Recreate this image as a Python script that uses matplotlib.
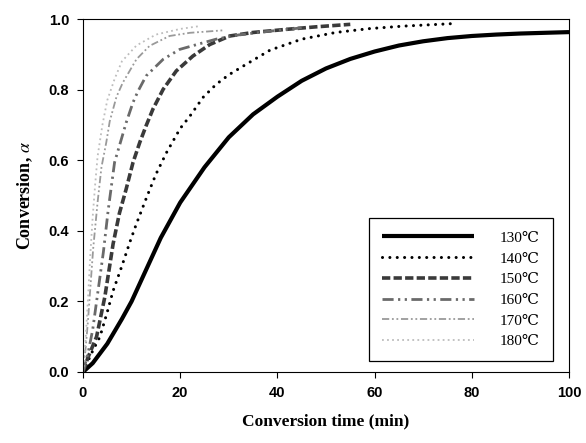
import matplotlib
matplotlib.use('Agg')
import matplotlib.pyplot as plt

# ── Data ───────────────────────────────────────────────────────────────────────
t_130 = [0, 2, 5, 8, 10, 13, 16, 20, 25, 30, 35, 40, 45, 50, 55, 60, 65, 70, 75, 80, 85, 90, 95, 100]
a_130 = [0, 0.025, 0.08, 0.15, 0.20, 0.29, 0.38, 0.48, 0.58, 0.665, 0.73, 0.78, 0.825, 0.86, 0.887,
         0.908, 0.925, 0.937, 0.946, 0.952, 0.956, 0.959, 0.961, 0.963]

t_140 = [0, 1, 2, 3.5, 5, 6.2, 8, 9.7, 11, 13.1, 15, 17.2, 20, 22, 24.7, 27.4, 30, 33, 38.5, 45, 52, 59, 66, 76]
a_140 = [0, 0.03, 0.06, 0.10, 0.17, 0.23, 0.30, 0.37, 0.42, 0.495, 0.56, 0.622, 0.69, 0.725, 0.778,
         0.815, 0.842, 0.867, 0.912, 0.943, 0.962, 0.973, 0.98, 0.987]

t_150 = [0, 1, 2.8, 4.5, 6.2, 7.5, 8.9, 10.3, 11.7, 13, 14.4, 16.5, 19.2, 22.6, 26.1, 30.2, 35, 42, 48, 55]
a_150 = [0, 0.04, 0.10, 0.213, 0.363, 0.45, 0.519, 0.594, 0.651, 0.698, 0.745, 0.801, 0.853, 0.895,
         0.928, 0.952, 0.962, 0.971, 0.978, 0.985]

t_160 = [0, 1, 2, 3, 4.2, 5.2, 6.5, 7.5, 8.9, 10.3, 11.3, 13, 16.5, 19.9, 24, 27.4, 32, 38, 45]
a_160 = [0, 0.05, 0.12, 0.22, 0.34, 0.46, 0.594, 0.641, 0.707, 0.764, 0.795, 0.839, 0.886, 0.914,
         0.93, 0.943, 0.955, 0.965, 0.975]

t_170 = [0, 0.5, 1, 2.1, 3, 3.8, 4.8, 5.5, 6.9, 8.2, 11, 13.7, 17.8, 22, 28.8]
a_170 = [0, 0.06, 0.14, 0.35, 0.48, 0.58, 0.651, 0.71, 0.78, 0.82, 0.886, 0.924, 0.952, 0.961, 0.968]

t_180 = [0, 0.5, 1, 1.5, 2, 2.5, 3, 4, 5, 6.5, 8, 11, 15, 20, 24]
a_180 = [0, 0.08, 0.2, 0.33, 0.44, 0.53, 0.61, 0.70, 0.77, 0.83, 0.88, 0.925, 0.956, 0.972, 0.98]

labels = ['130℃', '140℃', '150℃', '160℃', '170℃', '180℃']

# ── Plot ───────────────────────────────────────────────────────────────────────
plt.rcParams['mathtext.fontset'] = 'stix'

fig = plt.figure(figsize=(5.86, 4.43), dpi=100)
ax = fig.add_axes([0.1416, 0.1603, 0.8294, 0.7967])

ax.plot(t_130, a_130, color='black', lw=3.0, solid_capstyle='butt', label=labels[0])
ax.plot(t_140, a_140, color='black', lw=2.2, ls=(0, (0.01, 2.4)),
        dash_capstyle='round', label=labels[1])
ax.plot(t_150, a_150, color='#3a3a3a', lw=2.6, ls=(0, (2.3, 0.9)), label=labels[2])
ax.plot(t_160, a_160, color='#6a6a6a', lw=2.0, ls=(0, (4, 1.6, 0.8, 1.6, 0.8, 1.6)), label=labels[3])
ax.plot(t_170, a_170, color='#9a9a9a', lw=1.3, ls=(0, (4, 1.5, 1, 1.5, 1, 1.5)), label=labels[4])
ax.plot(t_180, a_180, color='#bdbdbd', lw=1.3, ls=(0, (1, 1.8)), label=labels[5])

ax.set_xlim(0, 100)
ax.set_ylim(0, 1.0)
ax.set_xticks([0, 20, 40, 60, 80, 100])
ax.set_yticks([0.0, 0.2, 0.4, 0.6, 0.8, 1.0])
ax.set_yticklabels(['0.0', '0.2', '0.4', '0.6', '0.8', '1.0'])
ax.tick_params(direction='out', length=4, width=0.8, pad=6)
for lab in ax.get_xticklabels() + ax.get_yticklabels():
    lab.set_family('Liberation Sans')
    lab.set_fontweight('bold')
    lab.set_fontsize(10.5)
for sp in ax.spines.values():
    sp.set_linewidth(0.8)

ax.set_xlabel('Conversion time (min)', family='Liberation Serif', fontweight='bold',
              fontsize=12.5, labelpad=10)
ax.set_ylabel(r'Conversion, $\alpha$', family='Liberation Serif', fontweight='bold',
              fontsize=13, labelpad=10)

leg = ax.legend(loc='upper right', bbox_to_anchor=(0.967, 0.436), borderaxespad=0,
                prop={'family': ['Liberation Serif', 'DejaVu Serif'], 'size': 11},
                handlelength=6.0, handletextpad=1.7, labelspacing=0.46, borderpad=0.85,
                fancybox=False, framealpha=1, edgecolor='black')
leg.get_frame().set_linewidth(0.9)

fig.savefig('out.png', dpi=100)
